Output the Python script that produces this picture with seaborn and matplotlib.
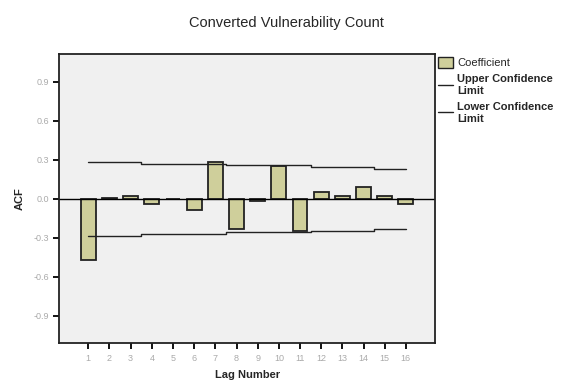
import matplotlib
matplotlib.use("Agg")
import matplotlib.pyplot as plt
import seaborn as sns
import pandas as pd
from matplotlib.patches import Patch
from matplotlib.lines import Line2D

lags = list(range(1, 17))
coefficient = [-0.47, 0.01, 0.025, -0.04, 0.0, -0.085, 0.28, -0.23,
               -0.015, 0.25, -0.25, 0.05, 0.025, 0.09, 0.025, -0.04]
upper_limit = [0.283, 0.283, 0.283, 0.27, 0.27, 0.27, 0.27, 0.258,
               0.258, 0.258, 0.258, 0.247, 0.247, 0.247, 0.232, 0.232]
lower_limit = [-0.283, -0.283, -0.283, -0.27, -0.27, -0.27, -0.27, -0.258,
               -0.258, -0.258, -0.258, -0.247, -0.247, -0.247, -0.232, -0.232]
yticks = [-0.9, -0.6, -0.3, 0.0, 0.3, 0.6, 0.9]

df = pd.DataFrame({"lag": lags, "coef": coefficient,
                   "upper": upper_limit, "lower": lower_limit})

sns.set_style("white")
plt.rcParams["font.family"] = ["Liberation Sans", "DejaVu Sans"]

fig = plt.figure(figsize=(5.67, 3.82), dpi=100)
ax = fig.add_axes([0.1046, 0.102, 0.6624, 0.7566])
ax.set_facecolor("#f0f0f0")

bar_color = "#cfcf9b"
sns.barplot(data=df, x="lag", y="coef", native_scale=True, ax=ax,
            color=bar_color, edgecolor="#222222", linewidth=1.3,
            width=0.7, saturation=1)
sns.lineplot(data=df, x="lag", y="upper", ax=ax, color="#222222",
             linewidth=1.0, drawstyle="steps-mid")
sns.lineplot(data=df, x="lag", y="lower", ax=ax, color="#222222",
             linewidth=1.0, drawstyle="steps-mid")
ax.axhline(0, color="black", linewidth=1.0, zorder=1)

ax.set_xlim(-0.37, 17.37)
ax.set_ylim(-1.11, 1.115)
ax.set_xticks(lags)
ax.set_xticklabels([str(l) for l in lags])
ax.set_yticks(yticks)
ax.set_yticklabels([f"{v:.1f}" for v in yticks])
ax.tick_params(axis="both", direction="out", length=4, width=1.3,
               color="black", labelcolor="#aaaaaa", labelsize=6.5,
               bottom=True, left=True)
ax.tick_params(axis="x", pad=4)
ax.tick_params(axis="y", pad=3)
for s in ax.spines.values():
    s.set_color("#222222")
    s.set_linewidth(1.3)

ax.set_xlabel("Lag Number", fontsize=8, fontweight="bold", labelpad=5)
ax.set_ylabel("ACF", fontsize=8, fontweight="bold", labelpad=7)

fig.text(0.505, 0.94, "Converted Vulnerability Count", ha="center",
         va="center", fontsize=10.5)

handles = [Patch(facecolor=bar_color, edgecolor="#222222", linewidth=1.0),
           Line2D([], [], color="#222222", linewidth=1.0),
           Line2D([], [], color="#222222", linewidth=1.0)]
labels = ["Coefficient", "Upper Confidence\nLimit", "Lower Confidence\nLimit"]
leg = fig.legend(handles, labels, loc="upper left", bbox_to_anchor=(0.765, 0.862),
                 frameon=False, fontsize=8, handlelength=1.35, handleheight=1.1,
                 handletextpad=0.35, labelspacing=0.55, borderaxespad=0)
for t in leg.get_texts()[1:]:
    t.set_fontweight("bold")

fig.savefig("out.png", dpi=100)
